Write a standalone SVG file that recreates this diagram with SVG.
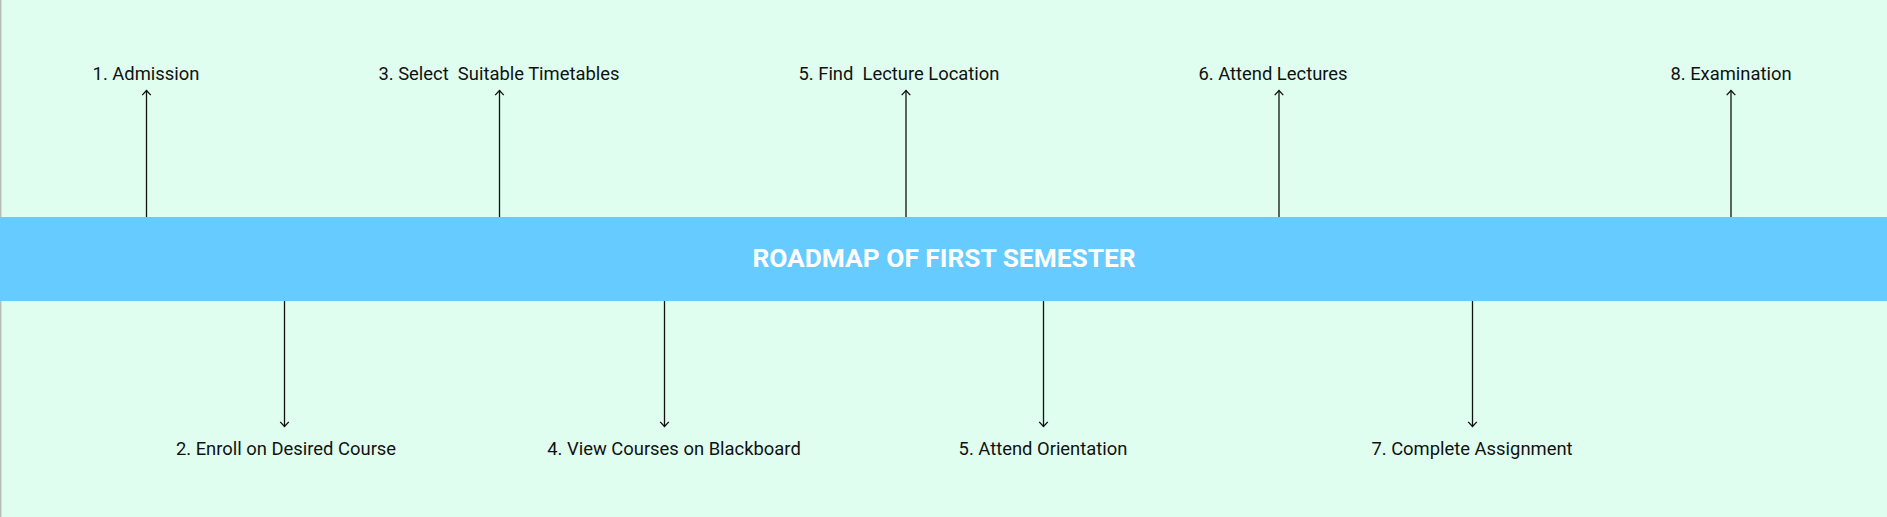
<svg xmlns="http://www.w3.org/2000/svg" width="1887" height="517" viewBox="0 0 1887 517">
<style>
.lbl{font-family:Roboto,"Liberation Sans",sans-serif;font-size:18.4px;fill:#111;text-anchor:middle}
.title{font-family:Roboto,"Liberation Sans",sans-serif;font-size:26.3px;font-weight:bold;fill:#fff;text-anchor:middle}
.conn{stroke:#111;stroke-width:1.3;fill:none}
</style>
<defs>
<marker id="ah" viewBox="-6 -6 12 12" markerWidth="12" markerHeight="12" markerUnits="userSpaceOnUse" orient="auto" refX="0" refY="0">
<path d="M-4.6,-4.3 L0,0 L-4.6,4.3" stroke="#111" stroke-width="1.3" fill="none"/>
</marker>
</defs>
<rect x="0" y="0" width="1887" height="517" fill="#E0FEF0"/>
<line x1="0.75" y1="0" x2="0.75" y2="517" stroke="#bbbbbb" stroke-width="1.5"/>
<g id="bar">
<rect x="0" y="217" width="1887" height="84" fill="#66CCFF"/>
<text class="title" x="944" y="267">ROADMAP OF FIRST SEMESTER</text>
</g>
<g id="connectors">
<line class="conn" x1="146.5" y1="217" x2="146.5" y2="90.5" marker-end="url(#ah)"/>
<line class="conn" x1="499.5" y1="217" x2="499.5" y2="90.5" marker-end="url(#ah)"/>
<line class="conn" x1="906" y1="217" x2="906" y2="90.5" marker-end="url(#ah)"/>
<line class="conn" x1="1279" y1="217" x2="1279" y2="90.5" marker-end="url(#ah)"/>
<line class="conn" x1="1731" y1="217" x2="1731" y2="90.5" marker-end="url(#ah)"/>
<line class="conn" x1="284.5" y1="301" x2="284.5" y2="426.5" marker-end="url(#ah)"/>
<line class="conn" x1="664.5" y1="301" x2="664.5" y2="426.5" marker-end="url(#ah)"/>
<line class="conn" x1="1043.5" y1="301" x2="1043.5" y2="426.5" marker-end="url(#ah)"/>
<line class="conn" x1="1472.5" y1="301" x2="1472.5" y2="426.5" marker-end="url(#ah)"/>
</g>
<g id="n1"><text class="lbl" x="146" y="79.5">1. Admission</text></g>
<g id="n3"><text class="lbl" x="499" y="79.5" xml:space="preserve">3. Select  Suitable Timetables</text></g>
<g id="n5a"><text class="lbl" x="899" y="79.5" xml:space="preserve">5. Find  Lecture Location</text></g>
<g id="n6"><text class="lbl" x="1273" y="79.5">6. Attend Lectures</text></g>
<g id="n8"><text class="lbl" x="1731" y="79.5">8. Examination</text></g>
<g id="n2"><text class="lbl" x="286" y="454.5">2. Enroll on Desired Course</text></g>
<g id="n4"><text class="lbl" x="674" y="454.5">4. View Courses on Blackboard</text></g>
<g id="n5b"><text class="lbl" x="1043" y="454.5">5. Attend Orientation</text></g>
<g id="n7"><text class="lbl" x="1472" y="454.5">7. Complete Assignment</text></g>
</svg>
